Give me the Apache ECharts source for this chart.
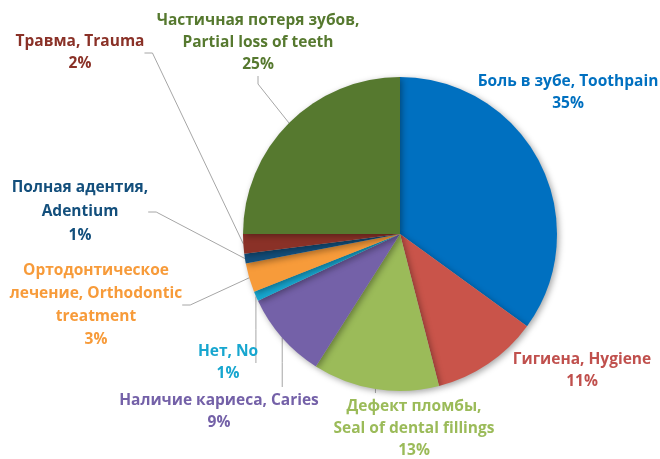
<!DOCTYPE html>
<html><head><meta charset="utf-8">
<script src="https://cdn.jsdelivr.net/npm/echarts@6/dist/echarts.min.js"></script>
<style>html,body{margin:0;padding:0;background:#fff}#c{width:660px;height:459px}</style>
</head><body><div id="c"></div>
<script>
const categories = [
  'Боль в зубе, Toothpain',
  'Гигиена, Hygiene',
  'Дефект пломбы,\nSeal of dental fillings',
  'Наличие кариеса, Caries',
  'Нет, No',
  'Ортодонтическое\nлечение, Orthodontic\ntreatment',
  'Полная адентия,\nAdentium',
  'Травма, Trauma',
  'Частичная потеря зубов,\nPartial loss of teeth'
];
const values = [35, 11, 13, 9, 1, 3, 1, 2, 25];
const colors = ['#0070C0', '#C9544A', '#9BBB59', '#7461A8', '#17A6CF', '#F79B3A', '#134F7C', '#8A3127', '#56792F'];
const labelColors = ['#0070C0', '#C0504D', '#9BBB59', '#7461A8', '#17A6CF', '#F79B3A', '#134F7C', '#8A3127', '#56792F'];
const showLine = [false, false, true, true, true, true, true, true, true];
// leader-line style: 'auto' or vertical ending at label top ('top') / label middle ('mid')
const lineMode = ['auto', 'auto', 'top', 'top', 'mid', 'auto', 'auto', 'auto', 'auto'];
const lineHeights = [22, 22, 22, 22, 22, 23, 24, 22, 22];
// label block centres (layout)
const labelPos = [[568, 93], [582, 371], [414, 429], [219, 412], [228, 363], [96, 305], [80, 212], [80, 53], [258, 43]];

const chart = echarts.init(document.getElementById('c'));
chart.setOption({
  animation: false,
  series: [{
    type: 'pie',
    center: [400, 234],
    radius: 157,
    startAngle: 90,
    clockwise: true,
    data: categories.map((n, i) => ({
      name: n, value: values[i],
      itemStyle: { color: colors[i] },
      label: { color: labelColors[i], lineHeight: lineHeights[i] },
      labelLine: { show: showLine[i] }
    })),
    itemStyle: { shadowBlur: 6, shadowColor: 'rgba(0,0,0,0.35)', shadowOffsetX: 2, shadowOffsetY: 2 },
    label: {
      show: true,
      formatter: p => p.name + '\n' + p.value + '%',
      fontFamily: 'Open Sans',
      fontWeight: 'bold',
      fontSize: 15.5,
      lineHeight: 22,
      align: 'center',
      overflow: 'none'
    },
    labelLine: { show: true, length: 10, length2: 8, lineStyle: { color: '#A6A6A6', width: 1 } },
    labelLayout: p => {
      const i = p.dataIndex;
      const pos = labelPos[i];
      const out = { x: pos[0], y: pos[1], align: 'center', verticalAlign: 'middle' };
      const mode = lineMode[i];
      if (mode !== 'auto' && p.labelLinePoints) {
        const s = p.labelLinePoints[0];
        const endY = mode === 'top' ? pos[1] - p.labelRect.height / 2 - 3 : pos[1];
        out.labelLinePoints = [[s[0], s[1]], [s[0], (s[1] + endY) / 2], [s[0], endY]];
      }
      return out;
    }
  }]
});
</script></body></html>
